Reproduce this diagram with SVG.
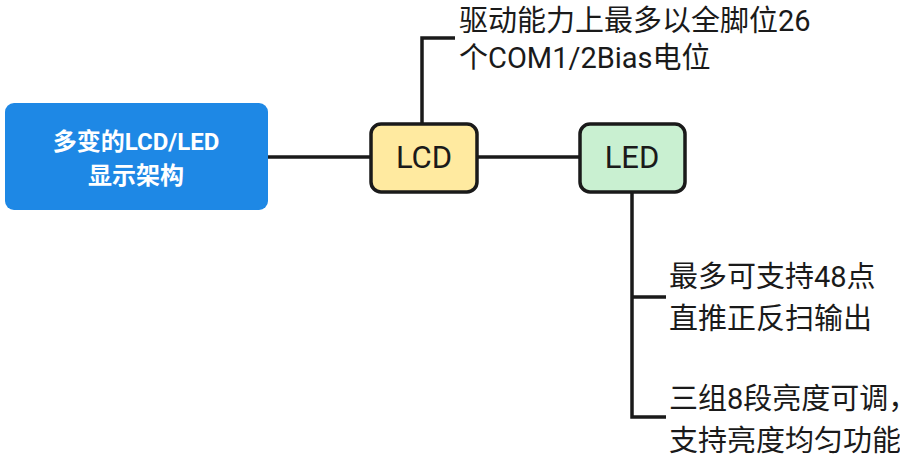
<svg xmlns="http://www.w3.org/2000/svg" width="900" height="463" viewBox="0 0 900 463">
<style>
.ln{fill:none;stroke:#1a1a1a;stroke-width:3.5}
.bx{stroke:#1a1a1a;stroke-width:3.5}
.t{font-family:Roboto,"Noto Sans CJK SC",sans-serif;fill:#1a1a1a}
.lbl{font-size:29px}
.w{fill:#ffffff;font-size:24px;font-weight:bold}
</style>
<rect width="900" height="463" fill="#ffffff"/>
<g id="connectors">
<path class="ln" d="M268 157H370"/>
<path class="ln" d="M478 157H580"/>
<path class="ln" d="M422 123V38H455"/>
<path class="ln" d="M632 193V417H666M632 297H666"/>
</g>
<g id="root">
<rect x="5" y="103" width="263" height="107" rx="9" fill="#1e88e5"/>
<text class="t w" x="136" y="150" text-anchor="middle">多变的LCD/LED</text>
<text class="t w" x="136" y="184" text-anchor="middle">显示架构</text>
</g>
<g id="lcd">
<rect class="bx" x="371" y="124" width="106" height="68" rx="10" fill="#ffeaa0"/>
<text class="t" x="424" y="168" text-anchor="middle" font-size="31">LCD</text>
</g>
<g id="led">
<rect class="bx" x="580" y="124" width="105" height="68" rx="10" fill="#c9f0d1"/>
<text class="t" x="632" y="168" text-anchor="middle" font-size="31">LED</text>
</g>
<g id="lcd-note">
<text class="t lbl" x="459" y="31">驱动能力上最多以全脚位26</text>
<text class="t lbl" x="459" y="68">个COM1/2Bias电位</text>
</g>
<g id="led-note1">
<text class="t lbl" x="669" y="287">最多可支持48点</text>
<text class="t lbl" x="669" y="329">直推正反扫输出</text>
</g>
<g id="led-note2">
<text class="t lbl" x="669" y="409">三组8段亮度可调，</text>
<text class="t lbl" x="669" y="451">支持亮度均匀功能</text>
</g>
</svg>
